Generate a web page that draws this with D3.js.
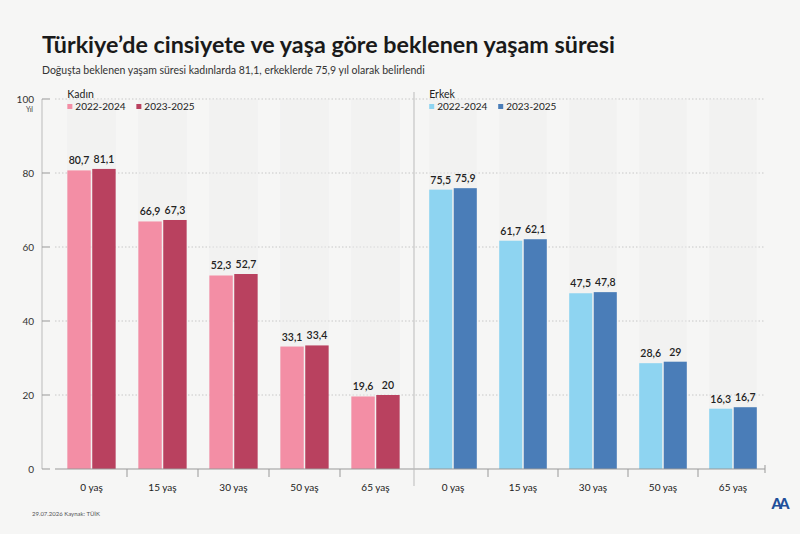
<!DOCTYPE html>
<html>
<head>
<meta charset="utf-8">
<title>yaşam süresi</title>
<style>
  body { margin: 0; background: #f6f6f5; }
  svg { display: block; font-family: "Lato", "Noto Sans", sans-serif; }
</style>
</head>
<body>
<svg id="chart"></svg>
<script src="https://cdn.jsdelivr.net/npm/d3@7"></script>
<script>
var ages = ["0 yaş", "15 yaş", "30 yaş", "50 yaş", "65 yaş"];
var periods = ["2022-2024", "2023-2025"];
var kadin2224 = [80.7, 66.9, 52.3, 33.1, 19.6];
var kadin2325 = [81.1, 67.3, 52.7, 33.4, 20];
var erkek2224 = [75.5, 61.7, 47.5, 28.6, 16.3];
var erkek2325 = [75.9, 62.1, 47.8, 29, 16.7];
var yTicks = [0, 20, 40, 60, 80, 100];

var width = 800, height = 534;
var svg = d3.select('#chart').attr('width', width).attr('height', height);

svg.append('rect').attr('width', width).attr('height', height).attr('fill', '#f6f6f5');

var y = d3.scaleLinear().domain([0, 100]).range([469, 99]);

// title
svg.append('text').attr('x', 42).attr('y', 53)
    .attr('font-size', 23.3).attr('font-weight', 700).attr('fill', '#1a1a1a')
    .text('Türkiye’de cinsiyete ve yaşa göre beklenen yaşam süresi');
svg.append('text').attr('x', 42).attr('y', 74)
    .attr('font-size', 10.5).attr('fill', '#333')
    .text('Doğuşta beklenen yaşam süresi kadınlarda 81,1, erkeklerde 75,9 yıl olarak belirlendi');

// y axis
svg.append('line').attr('x1', 42).attr('x2', 42).attr('y1', y(100)).attr('y2', y(0))
    .attr('stroke', '#bbb');
svg.selectAll('.ytick').data(yTicks).enter().append('line')
    .attr('x1', 42).attr('x2', 50)
    .attr('y1', function(d) { return y(d); }).attr('y2', function(d) { return y(d); })
    .attr('stroke', '#999');
svg.selectAll('.ylab').data(yTicks).enter().append('text')
    .attr('x', 34).attr('y', function(d) { return y(d); })
    .attr('dy', '0.35em').attr('text-anchor', 'end')
    .attr('font-size', 10).attr('fill', '#333')
    .text(function(d) { return d; });
svg.append('text').attr('x', 33).attr('y', y(100) + 13).attr('text-anchor', 'end')
    .attr('font-size', 7).attr('fill', '#444').text('Yıl');

// grid
svg.selectAll('.grid').data(yTicks.slice(1)).enter().append('line')
    .attr('x1', 55).attr('x2', 765)
    .attr('y1', function(d) { return y(d); }).attr('y2', function(d) { return y(d); })
    .attr('stroke', '#c8c8c8').attr('stroke-dasharray', '1.5,2');

var fmt = function(v) { return String(v).replace('.', ','); };

var panels = [
    { name: 'Kadın', a: kadin2224, b: kadin2325, colors: ['#f38ea5', '#b9415f'], range: [56, 411] },
    { name: 'Erkek', a: erkek2224, b: erkek2325, colors: ['#8ed4f1', '#4a7db8'], range: [418, 768] }
];

panels.forEach(function(p) {
    var x0 = d3.scaleBand().domain(ages).range(p.range).paddingInner(0.32).paddingOuter(0.16);
    var x1 = d3.scaleBand().domain(periods).range([0, x0.bandwidth()]).paddingInner(0.06);
    var g = svg.append('g');

    // faint background columns
    g.selectAll('.bg').data(ages).enter().append('rect')
        .attr('x', function(d) { return x0(d); })
        .attr('y', y(100))
        .attr('width', x0.bandwidth())
        .attr('height', y(0) - y(100))
        .attr('fill', '#eeeeee').attr('opacity', 0.45);

    var rows = ages.map(function(a, i) { return { age: a, vals: [p.a[i], p.b[i]] }; });
    var grp = g.selectAll('.grp').data(rows).enter().append('g')
        .attr('transform', function(d) { return 'translate(' + x0(d.age) + ',0)'; });

    grp.selectAll('rect').data(function(d) { return d.vals; }).enter().append('rect')
        .attr('x', function(d, i) { return x1(periods[i]); })
        .attr('y', function(d) { return y(d); })
        .attr('width', x1.bandwidth())
        .attr('height', function(d) { return y(0) - y(d); })
        .attr('fill', function(d, i) { return p.colors[i]; });

    grp.selectAll('text').data(function(d) { return d.vals; }).enter().append('text')
        .attr('x', function(d, i) { return x1(periods[i]) + x1.bandwidth() / 2; })
        .attr('y', function(d) { return y(d) - 6; })
        .attr('text-anchor', 'middle')
        .attr('font-size', 10.5).attr('font-weight', 600).attr('fill', '#222')
        .text(function(d) { return fmt(d); });

    // x labels
    g.selectAll('.xl').data(ages).enter().append('text')
        .attr('x', function(d) { return x0(d) + x0.bandwidth() / 2; })
        .attr('y', 491)
        .attr('text-anchor', 'middle').attr('font-size', 10).attr('fill', '#222')
        .text(function(d) { return d; });

    // separator ticks between groups
    var step = x0.step();
    g.selectAll('.sep').data(ages.slice(1)).enter().append('line')
        .attr('x1', function(d) { return x0(d) - step * x0.paddingInner() / 2; })
        .attr('x2', function(d) { return x0(d) - step * x0.paddingInner() / 2; })
        .attr('y1', y(0)).attr('y2', y(0) + 8)
        .attr('stroke', '#999');

    // legend
    var lx = x0(ages[0]);
    g.append('text').attr('x', lx).attr('y', 98).attr('font-size', 10.5).attr('fill', '#222').text(p.name);
    var leg = g.selectAll('.leg').data(periods).enter().append('g')
        .attr('transform', function(d, i) { return 'translate(' + (lx + i * 69) + ',110)'; });
    leg.append('rect').attr('x', 0).attr('y', -6).attr('width', 5).attr('height', 5)
        .attr('fill', function(d, i) { return p.colors[i]; });
    leg.append('text').attr('x', 8).attr('y', 0).attr('font-size', 10).attr('fill', '#222')
        .text(function(d) { return d; });
});

// baseline, divider and end tick
svg.append('line').attr('x1', 55).attr('x2', 765).attr('y1', y(0)).attr('y2', y(0)).attr('stroke', '#999');
svg.append('line').attr('x1', 414).attr('x2', 414).attr('y1', 92).attr('y2', 486).attr('stroke', '#bbb');
svg.append('line').attr('x1', 765).attr('x2', 765).attr('y1', y(0) - 4).attr('y2', y(0) + 4).attr('stroke', '#999');

// footer
svg.append('text').attr('x', 32).attr('y', 516).attr('font-size', 6).attr('fill', '#555')
    .text('29.07.2026   Kaynak: TÜİK');
svg.append('text').attr('x', 779).attr('y', 509).attr('text-anchor', 'middle')
    .attr('font-size', 15).attr('font-weight', 900).attr('fill', '#1f4f9a')
    .attr('letter-spacing', -3).text('AA');
</script>
</body>
</html>
